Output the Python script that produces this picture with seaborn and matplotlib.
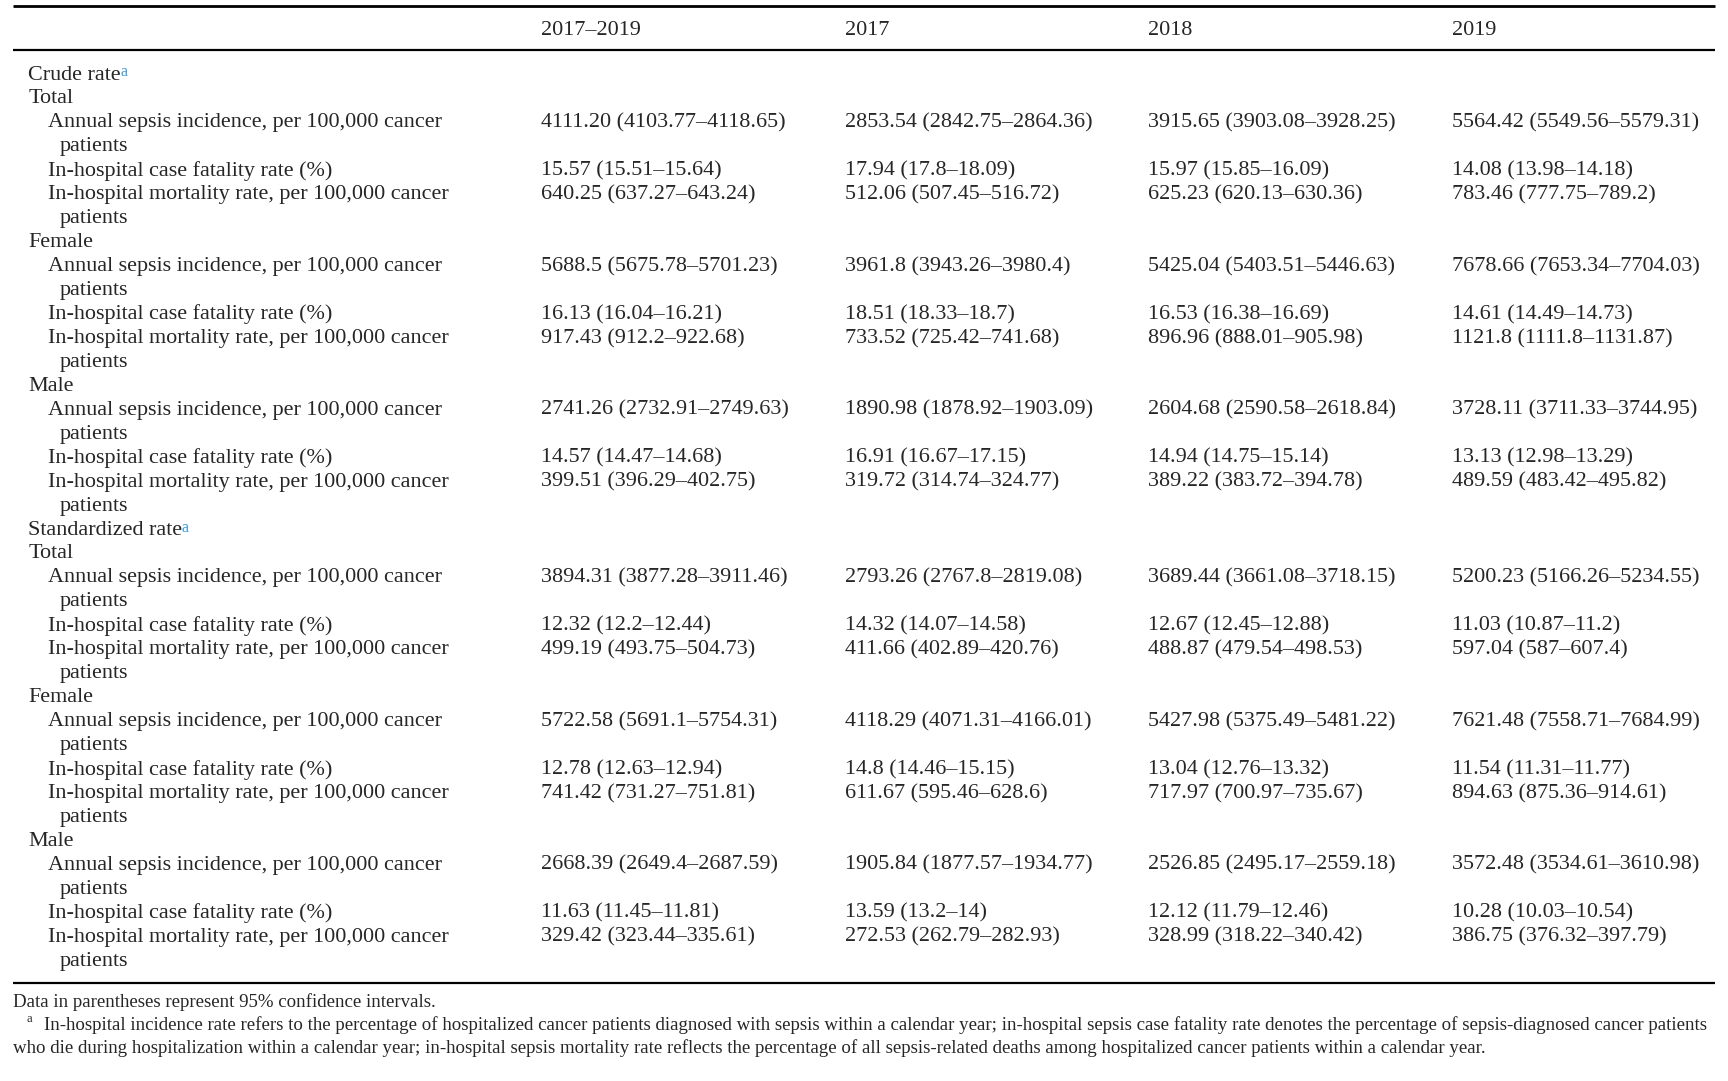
import matplotlib
matplotlib.use("Agg")
import matplotlib.pyplot as plt
import seaborn as sns

# table content
years = ["2017\u20132019", "2017", "2018", "2019"]
sections = ["Crude rate", "Standardized rate"]
groups = ["Total", "Female", "Male"]
measures = ["Annual sepsis incidence, per 100,000 cancer\npatients",
            "In-hospital case fatality rate (%)",
            "In-hospital mortality rate, per 100,000 cancer\npatients"]

crude_total = [
    ["4111.20 (4103.77\u20134118.65)", "2853.54 (2842.75\u20132864.36)", "3915.65 (3903.08\u20133928.25)", "5564.42 (5549.56\u20135579.31)"],
    ["15.57 (15.51\u201315.64)", "17.94 (17.8\u201318.09)", "15.97 (15.85\u201316.09)", "14.08 (13.98\u201314.18)"],
    ["640.25 (637.27\u2013643.24)", "512.06 (507.45\u2013516.72)", "625.23 (620.13\u2013630.36)", "783.46 (777.75\u2013789.2)"],
]
crude_female = [
    ["5688.5 (5675.78\u20135701.23)", "3961.8 (3943.26\u20133980.4)", "5425.04 (5403.51\u20135446.63)", "7678.66 (7653.34\u20137704.03)"],
    ["16.13 (16.04\u201316.21)", "18.51 (18.33\u201318.7)", "16.53 (16.38\u201316.69)", "14.61 (14.49\u201314.73)"],
    ["917.43 (912.2\u2013922.68)", "733.52 (725.42\u2013741.68)", "896.96 (888.01\u2013905.98)", "1121.8 (1111.8\u20131131.87)"],
]
crude_male = [
    ["2741.26 (2732.91\u20132749.63)", "1890.98 (1878.92\u20131903.09)", "2604.68 (2590.58\u20132618.84)", "3728.11 (3711.33\u20133744.95)"],
    ["14.57 (14.47\u201314.68)", "16.91 (16.67\u201317.15)", "14.94 (14.75\u201315.14)", "13.13 (12.98\u201313.29)"],
    ["399.51 (396.29\u2013402.75)", "319.72 (314.74\u2013324.77)", "389.22 (383.72\u2013394.78)", "489.59 (483.42\u2013495.82)"],
]
std_total = [
    ["3894.31 (3877.28\u20133911.46)", "2793.26 (2767.8\u20132819.08)", "3689.44 (3661.08\u20133718.15)", "5200.23 (5166.26\u20135234.55)"],
    ["12.32 (12.2\u201312.44)", "14.32 (14.07\u201314.58)", "12.67 (12.45\u201312.88)", "11.03 (10.87\u201311.2)"],
    ["499.19 (493.75\u2013504.73)", "411.66 (402.89\u2013420.76)", "488.87 (479.54\u2013498.53)", "597.04 (587\u2013607.4)"],
]
std_female = [
    ["5722.58 (5691.1\u20135754.31)", "4118.29 (4071.31\u20134166.01)", "5427.98 (5375.49\u20135481.22)", "7621.48 (7558.71\u20137684.99)"],
    ["12.78 (12.63\u201312.94)", "14.8 (14.46\u201315.15)", "13.04 (12.76\u201313.32)", "11.54 (11.31\u201311.77)"],
    ["741.42 (731.27\u2013751.81)", "611.67 (595.46\u2013628.6)", "717.97 (700.97\u2013735.67)", "894.63 (875.36\u2013914.61)"],
]
std_male = [
    ["2668.39 (2649.4\u20132687.59)", "1905.84 (1877.57\u20131934.77)", "2526.85 (2495.17\u20132559.18)", "3572.48 (3534.61\u20133610.98)"],
    ["11.63 (11.45\u201311.81)", "13.59 (13.2\u201314)", "12.12 (11.79\u201312.46)", "10.28 (10.03\u201310.54)"],
    ["329.42 (323.44\u2013335.61)", "272.53 (262.79\u2013282.93)", "328.99 (318.22\u2013340.42)", "386.75 (376.32\u2013397.79)"],
]
table = [[crude_total, crude_female, crude_male],
         [std_total, std_female, std_male]]

note1 = "Data in parentheses represent 95% confidence intervals."
note2 = ("In-hospital incidence rate refers to the percentage of hospitalized cancer patients diagnosed with sepsis "
         "within a calendar year; in-hospital sepsis case fatality rate denotes the percentage of sepsis-diagnosed cancer patients")
note3 = ("who die during hospitalization within a calendar year; in-hospital sepsis mortality rate reflects the percentage "
         "of all sepsis-related deaths among hospitalized cancer patients within a calendar year.")

sns.set_theme(style="white")
plt.rcParams['font.family'] = ['Liberation Serif', 'DejaVu Serif']

W, H = 1728, 1081
fig = plt.figure(figsize=(W / 100, H / 100), dpi=100)
ax = fig.add_axes([0, 0, 1, 1])
ax.set_xlim(0, W)
ax.set_ylim(H, 0)
ax.axis('off')

fs = 15.9
col_x = [541, 845, 1148, 1452]
x_sec, x_item, x_cont = 28.5, 47.5, 59.5
y0, dy = 75.0, 23.95
blue = '#3a9ad6'

rend = fig.canvas.get_renderer()

def sup(t, txt='a'):
    # superscript marker right after a label
    bb = t.get_window_extent(renderer=rend)
    ytop = H - bb.y1
    ax.text(bb.x1 - 1, ytop - 1, txt, fontsize=11.5, color=blue, ha='left', va='top')

# rules
ax.plot([13, 1715], [5.5, 5.5], color='black', lw=2.0, solid_capstyle='butt')
ax.plot([13, 1715], [49.5, 49.5], color='black', lw=1.6, solid_capstyle='butt')
ax.plot([13, 1715], [983, 983], color='black', lw=1.6, solid_capstyle='butt')

for x, yr in zip(col_x, years):
    ax.text(x, 30.5, yr, fontsize=fs, ha='left', va='center')

row = 0
for s, sec in enumerate(sections):
    t = ax.text(x_sec, y0 + row * dy, sec, fontsize=fs, ha='left', va='center')
    sup(t)
    row += 1
    for g, grp in enumerate(groups):
        ax.text(x_sec, y0 + row * dy, grp, fontsize=fs, ha='left', va='center')
        row += 1
        for m, meas in enumerate(measures):
            parts = meas.split('\n')
            ax.text(x_item, y0 + row * dy, parts[0], fontsize=fs, ha='left', va='center')
            for c, x in enumerate(col_x):
                ax.text(x, y0 + row * dy, table[s][g][m][c], fontsize=fs, ha='left', va='center')
            row += 1
            if len(parts) > 1:
                ax.text(x_cont, y0 + row * dy, parts[1], fontsize=fs, ha='left', va='center')
                row += 1

# footnotes
fn = 13.6
ax.text(13, 1002, note1, fontsize=fn, ha='left', va='center')
ax.text(26.5, 1019, 'a', fontsize=9, ha='left', va='center')
ax.text(44, 1025, note2, fontsize=fn, ha='left', va='center')
ax.text(13, 1048, note3, fontsize=fn, ha='left', va='center')

fig.savefig('out.png', dpi=100)
